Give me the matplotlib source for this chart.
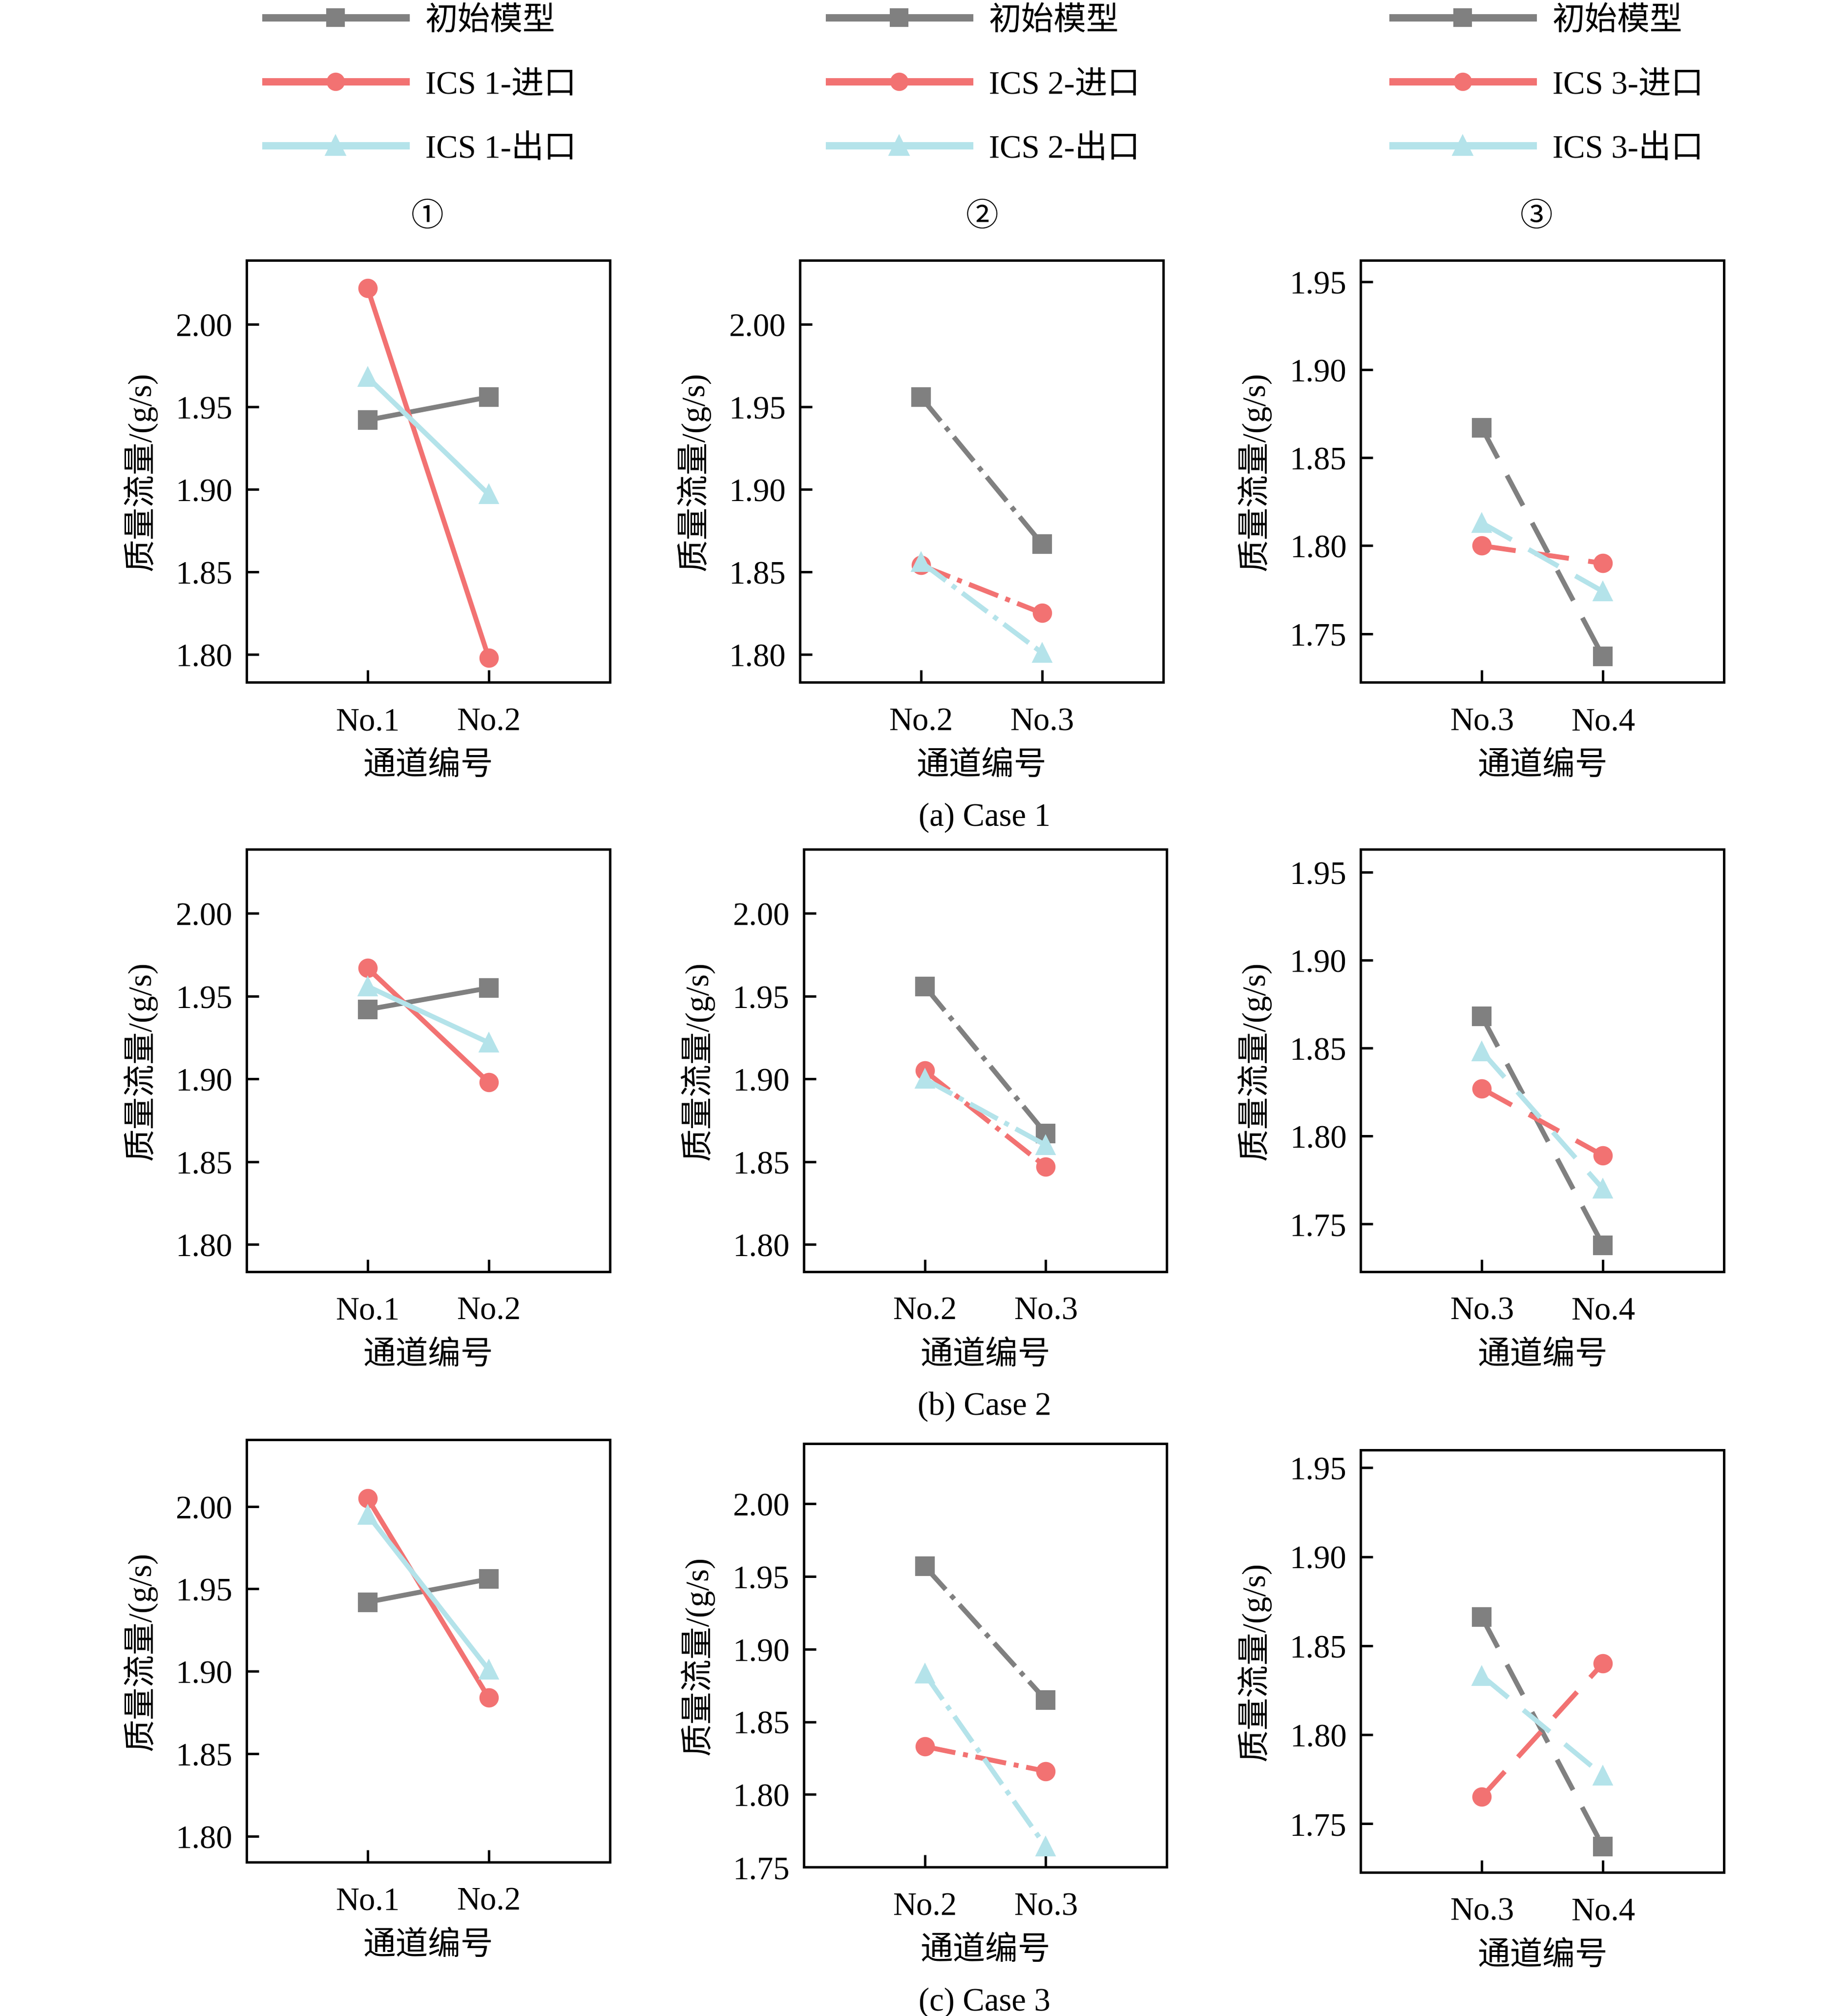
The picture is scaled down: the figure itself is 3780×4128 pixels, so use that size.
import matplotlib
matplotlib.use("Agg")
from matplotlib import pyplot as plt
from matplotlib.lines import Line2D

plt.rcParams["font.family"] = ["Liberation Serif", "Noto Sans CJK SC"]
plt.rcParams["font.size"] = 16

# channel names per column (ICS 1, ICS 2, ICS 3)
channels = [["No.1", "No.2"], ["No.2", "No.3"], ["No.3", "No.4"]]

# mass flow (g/s), rows = Case 1..3, cols = ICS 1..3
initial = [
    [[1.942, 1.956], [1.956, 1.867], [1.867, 1.737]],
    [[1.942, 1.955], [1.956, 1.867], [1.868, 1.738]],
    [[1.942, 1.956], [1.957, 1.865], [1.866, 1.737]],
]
inlet = [
    [[2.022, 1.798], [1.854, 1.825], [1.800, 1.790]],
    [[1.967, 1.898], [1.905, 1.847], [1.827, 1.789]],
    [[2.005, 1.884], [1.833, 1.816], [1.765, 1.840]],
]
outlet = [
    [[1.968, 1.897], [1.856, 1.801], [1.813, 1.774]],
    [[1.956, 1.922], [1.900, 1.860], [1.848, 1.770]],
    [[1.995, 1.901], [1.883, 1.764], [1.833, 1.777]],
]

ylims = [
    [(1.783, 2.039), (1.783, 2.039), (1.7223, 1.9624)],
    [(1.7837, 2.0388), (1.7837, 2.0388), (1.723, 1.963)],
    [(1.7844, 2.0405), (1.75, 2.0415), (1.7226, 1.960)],
]
yticks = [
    [[1.80, 1.85, 1.90, 1.95, 2.00]] * 2 + [[1.75, 1.80, 1.85, 1.90, 1.95]],
    [[1.80, 1.85, 1.90, 1.95, 2.00]] * 2 + [[1.75, 1.80, 1.85, 1.90, 1.95]],
    [[1.80, 1.85, 1.90, 1.95, 2.00], [1.75, 1.80, 1.85, 1.90, 1.95, 2.00],
     [1.75, 1.80, 1.85, 1.90, 1.95]],
]

case_labels = ["(a) Case 1", "(b) Case 2", "(c) Case 3"]
circled = ["①", "②", "③"]

GRAY = "#808080"
RED = "#F27272"
CYAN = "#B4E3EA"
col_styles = ["-", "-.", (0, (7, 4))]

W, H = 1438, 1571
# axes boxes in reference pixels: (left, top, right, bottom)
boxes = [
    [(192, 203, 475, 532), (623, 203, 906, 532), (1060, 203, 1343, 532)],
    [(192, 662, 475, 991), (626, 662, 909, 991), (1060, 662, 1343, 991)],
    [(192, 1122, 475, 1451), (626, 1125, 909, 1455), (1060, 1130, 1343, 1459)],
]

fig = plt.figure(figsize=(12.6, 13.763), dpi=300)

for r in range(3):
    for c in range(3):
        l, t, rr, b = boxes[r][c]
        ax = fig.add_axes([l / W, 1 - b / H, (rr - l) / W, (b - t) / H])
        x = [0, 1]
        ls = col_styles[c]
        kw = dict(lw=2.4, ms=8.5, linestyle=ls)
        ax.plot(x, initial[r][c], color=GRAY, marker="s", **kw)
        ax.plot(x, inlet[r][c], color=RED, marker="o", **kw)
        ax.plot(x, outlet[r][c], color=CYAN, marker="^", **kw)
        ax.set_xlim(-1, 2)
        ax.set_ylim(*ylims[r][c])
        ax.set_yticks(yticks[r][c])
        ax.set_yticklabels([f"{v:.2f}" for v in yticks[r][c]])
        ax.set_xticks(x)
        ax.set_xticklabels(channels[c])
        ax.tick_params(direction="in", length=6, width=1.2, top=False, right=False,
                       labelsize=16)
        ax.tick_params(axis="x", pad=12)
        ax.tick_params(axis="y", pad=7)
        for s in ax.spines.values():
            s.set_linewidth(1.2)
        ax.set_xlabel("通道编号", fontsize=16, labelpad=7)
        ax.set_ylabel("质量流量/(g/s)", fontsize=16, labelpad=9)
    fig.text(767 / W, 1 - (boxes[r][1][3] + 105) / H, case_labels[r],
             ha="center", va="center", fontsize=16)

# legends and column markers on top
leg_x = [207, 646, 1085]
for c in range(3):
    n = c + 1
    handles = [
        Line2D([], [], color=GRAY, marker="s", lw=3.6, ms=8),
        Line2D([], [], color=RED, marker="o", lw=3.6, ms=8),
        Line2D([], [], color=CYAN, marker="^", lw=3.6, ms=9),
    ]
    labels = ["初始模型", f"ICS {n}-进口", f"ICS {n}-出口"]
    fig.legend(handles, labels, loc="upper left",
               bbox_to_anchor=(leg_x[c] / W, 1 - 5 / H), frameon=False,
               borderpad=0, borderaxespad=0, handlelength=4.3,
               handletextpad=0.6, labelspacing=1.05, fontsize=16)
    fig.text([333, 765, 1197][c] / W, 1 - 170 / H, circled[c],
             ha="center", va="center", fontsize=16)

fig.savefig("out.png", dpi=300)
